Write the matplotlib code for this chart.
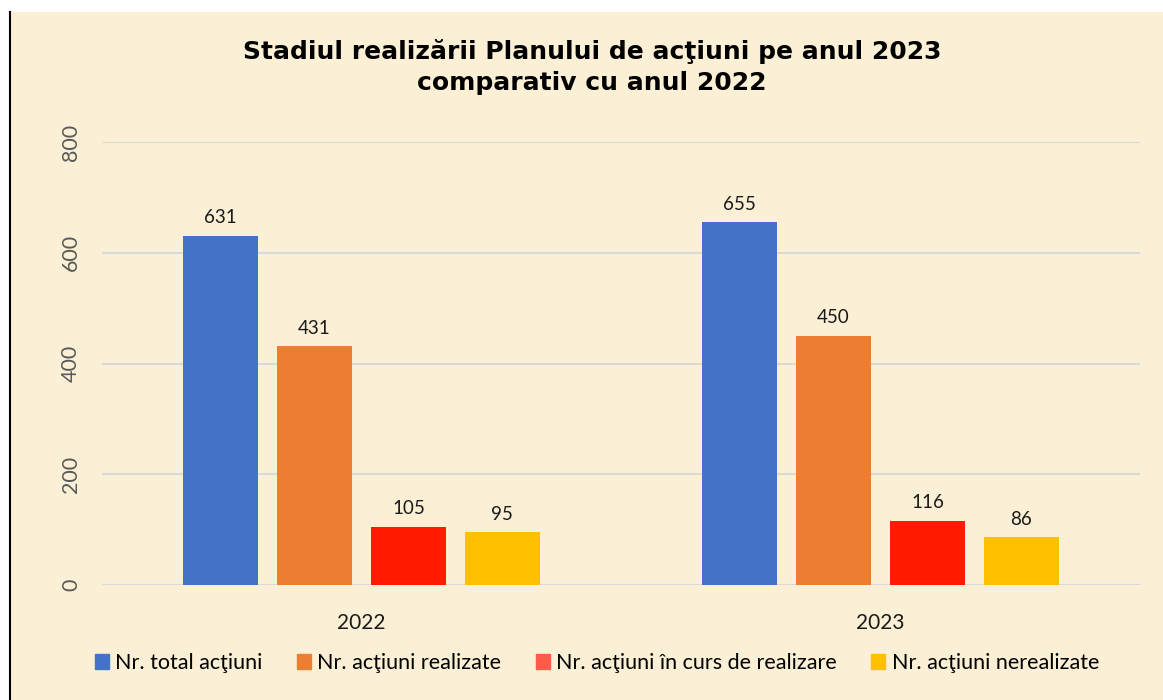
import numpy as np
import matplotlib.pyplot as plt
from matplotlib.patches import Rectangle
from matplotlib.lines import Line2D

# date
ani = ["2022", "2023"]
serii = ["Nr. total acţiuni", "Nr. acţiuni realizate",
         "Nr. acţiuni în curs de realizare", "Nr. acţiuni nerealizate"]
total = [631, 655]
realizate = [431, 450]
in_curs = [105, 116]
nerealizate = [95, 86]
valori = [total, realizate, in_curs, nerealizate]
culori = ["#4472C4", "#ED7D31", "#FF1A00", "#FFC000"]
culori_legenda = ["#4472C4", "#ED7D31", "#FF5B4B", "#FFC000"]

W, H = 1163, 700
fig = plt.figure(figsize=(W / 100, H / 100), dpi=100)
fig.patch.set_facecolor("white")
# fundal tip pergament
fig.add_artist(Rectangle((11 / W, 0), 1 - 11 / W, (H - 12) / H,
                         transform=fig.transFigure, facecolor="#FBF0D5",
                         edgecolor="none", zorder=0))
fig.add_artist(Line2D([10 / W, 10 / W], [0, (H - 12) / H],
                      transform=fig.transFigure, color="black", lw=1.5))

ax = fig.add_axes([102 / W, (H - 585) / H, (1140 - 102) / W, (585 - 142) / H])
ax.set_facecolor("none")

x = np.arange(len(ani))
pas = 0.181
latime = 0.143
for j, (v, c) in enumerate(zip(valori, culori)):
    poz = x + (j - 1.5) * pas
    bare = ax.bar(poz, v, width=latime, color=c, zorder=3)
    for b, val in zip(bare, v):
        ax.text(b.get_x() + b.get_width() / 2, val + 17, str(val),
                ha="center", va="bottom", fontsize=13.5, family="Lato",
                color="#1a1a1a")

ax.set_xlim(-0.5, 1.5)
ax.set_ylim(0, 800)
ax.set_yticks([0, 200, 400, 600, 800])
ax.grid(axis="y", color="#D9D9D9", lw=1.5, zorder=0)
for s in ax.spines.values():
    s.set_visible(False)
ax.tick_params(axis="both", length=0)
ax.set_yticklabels(["0", "200", "400", "600", "800"], rotation=90,
                   va="center", fontsize=15.5, family="Lato", color="#595959")
ax.tick_params(axis="y", pad=15)
ax.set_xticks(x)
ax.set_xticklabels(ani, fontsize=15, family="Lato", color="#1a1a1a")
ax.tick_params(axis="x", pad=20)

fig.text(592 / W, 1 - 67 / H,
         "Stadiul realizării Planului de acţiuni pe anul 2023\ncomparativ cu anul 2022",
         ha="center", va="center", fontsize=18, fontweight="bold",
         family="DejaVu Sans", linespacing=1.35)

manere = [Rectangle((0, 0), 1, 1, color=c) for c in culori_legenda]
fig.legend(manere, serii, loc="center", bbox_to_anchor=(597 / W, 1 - 663 / H),
           ncol=4, frameon=False, prop={"family": "Lato", "size": 15.5},
           handlelength=0.65, handleheight=0.65, handletextpad=0.3,
           columnspacing=1.6)

fig.savefig("out.png", dpi=100)
